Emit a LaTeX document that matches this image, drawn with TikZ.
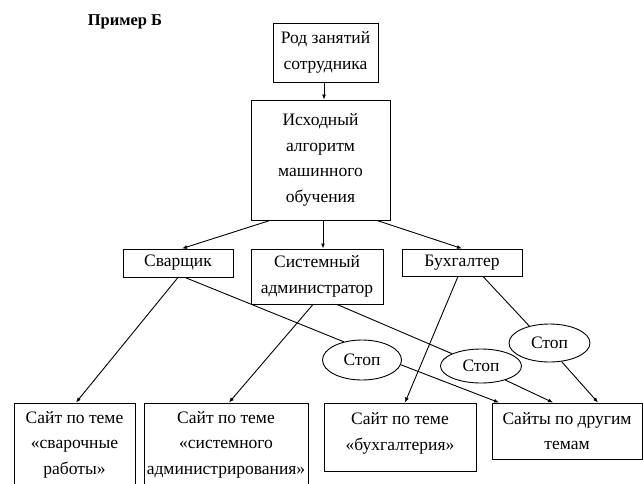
\documentclass[tikz,border=0pt]{standalone}
\usepackage{fontspec}
\setmainfont{Liberation Serif}
\usetikzlibrary{shapes.geometric,arrows.meta}

\begin{document}
\begin{tikzpicture}[x=1pt,y=-1pt,
  every node/.style={font=\rmfamily\fontsize{17.5}{25.5}\selectfont, align=center, inner sep=0pt},
  box/.style={draw, line width=0.9pt, rectangle},
  stopnode/.style={draw, line width=0.9pt, ellipse},
  link/.style={line width=0.9pt},
  arr/.style={link, -{Latex[length=5pt,width=4pt]}}
]
\useasboundingbox (0,0) rectangle (643,483);

% title
\node[font=\rmfamily\bfseries\fontsize{16.5}{18}\selectfont] (title) at (125,22) {Пример Б};

% upper chain
\node[box, minimum width=105pt, minimum height=59pt] (rod) at (325.5,52.5) {Род занятий\\сотрудника};
\node[box, minimum width=139pt, minimum height=120pt] (ish) at (320.5,160) {Исходный\\алгоритм\\машинного\\обучения};

% professions
\node[box, minimum width=110pt, minimum height=28pt] (svar) at (178,263) {Сварщик};
\node[box, minimum width=132pt, minimum height=55pt] (sys) at (317,276.5) {Системный\\администратор};
\node[box, minimum width=120pt, minimum height=27pt] (bux) at (462,262.5) {Бухгалтер};

% stop points
\node[stopnode, minimum width=79pt, minimum height=40pt] (stop1) at (362,360) {Стоп};
\node[stopnode, minimum width=81pt, minimum height=34pt] (stop2) at (481,366) {Стоп};
\node[stopnode, minimum width=81pt, minimum height=38pt] (stop3) at (549.5,343) {Стоп};

% sites
\node[box, minimum width=121pt, minimum height=100pt] (site1) at (74.5,453)
  {Сайт по теме\\«сварочные\\работы»\rule[-20pt]{0pt}{20pt}};
\node[box, minimum width=164pt, minimum height=100pt] (site2) at (226,453)
  {Сайт по теме\\«системного\\администрирования»\rule[-20pt]{0pt}{20pt}};
\node[box, minimum width=152pt, minimum height=68pt] (site3) at (400,437)
  {Сайт по теме\\«бухгалтерия»\rule[-11pt]{0pt}{11pt}};
\node[box, minimum width=150pt, minimum height=56pt] (site4) at (567,431)
  {Сайты по другим\\темам};

% connectors
\draw[arr] ([xshift=-1.5pt]rod.south) -- ([xshift=3.5pt]ish.north);
\draw[arr] ([xshift=-50.5pt]ish.south) -- ([xshift=4pt]svar.north);
\draw[arr] ([xshift=2.5pt]ish.south) -- ([xshift=6pt]sys.north);
\draw[arr] ([xshift=56.5pt]ish.south) -- (bux.north);

\draw[arr] (svar.south) -- ([xshift=1.5pt]site1.north);
\draw[link] ([xshift=7pt]svar.south) -- (stop1.135);
\draw[arr] (stop1.-7) -- ([xshift=-68pt]site4.north);

\draw[arr] ([xshift=-4pt]sys.south) -- ([xshift=3pt]site2.north);
\draw[link] ([xshift=20pt]sys.south) -- (stop2.157);
\draw[arr] (stop2.-30) -- ([xshift=-14pt]site4.north);

\draw[arr] ([xshift=-4pt]bux.south) -- ([xshift=5pt]site3.north);
\draw[link] ([xshift=21pt]bux.south) -- (stop3.140);
\draw[arr] (stop3.-57) -- ([xshift=31pt]site4.north);
\end{tikzpicture}
\end{document}
